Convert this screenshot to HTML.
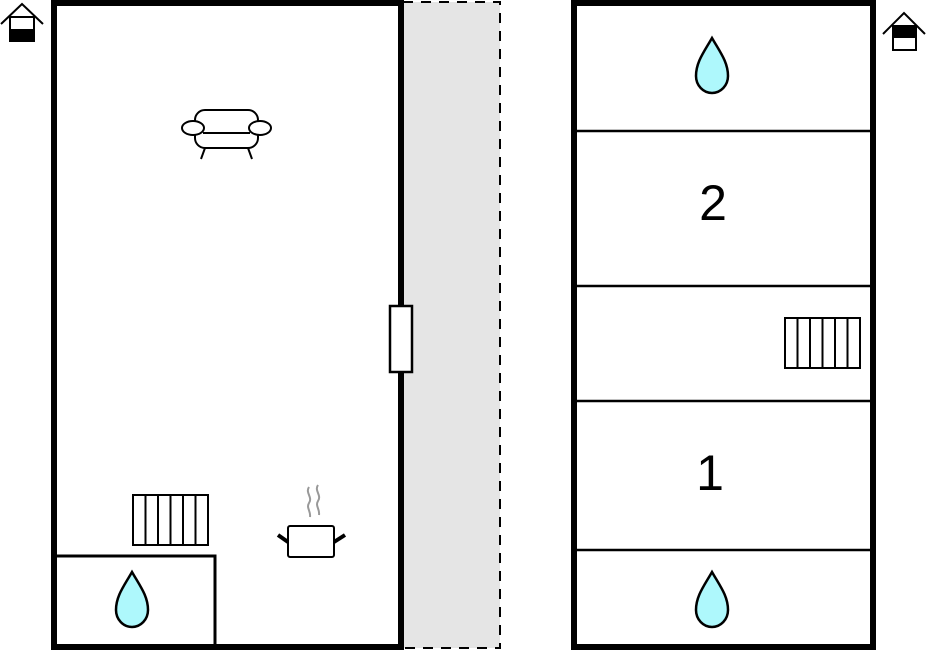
<!DOCTYPE html>
<html><head><style>html,body{margin:0;padding:0;background:#fff;}svg{display:block}</style></head>
<body>
<svg width="926" height="652" viewBox="0 0 926 652" xmlns="http://www.w3.org/2000/svg">
<defs>
<path id="drop" d="M0,0 C-8,14 -16,24 -16,38 A16 17 0 0 0 16,38 C16,24 8,14 0,0 Z" fill="#aef8fc" stroke="#000" stroke-width="2.5"/>
</defs>
<rect x="403" y="2" width="97" height="646" fill="#e5e5e5" stroke="#000" stroke-width="2" stroke-dasharray="10,8"/>
<rect x="54" y="3" width="347" height="644" fill="#fff" stroke="#000" stroke-width="6"/>
<polyline points="54,556 215,556 215,648" fill="none" stroke="#000" stroke-width="3"/>
<rect x="390" y="306" width="22" height="66" fill="#fff" stroke="#000" stroke-width="2.5"/>
<g stroke="#000" stroke-width="2" fill="#fff">
<rect x="133" y="495" width="75" height="50"/>
<line x1="145.5" y1="495" x2="145.5" y2="545"/><line x1="158" y1="495" x2="158" y2="545"/>
<line x1="170.5" y1="495" x2="170.5" y2="545"/><line x1="183" y1="495" x2="183" y2="545"/>
<line x1="195.5" y1="495" x2="195.5" y2="545"/>
</g>
<use href="#drop" x="132" y="572"/>
<g stroke="#000" stroke-width="2" fill="#fff">
<line x1="205" y1="148" x2="201" y2="159"/><line x1="248" y1="148" x2="252" y2="159"/>
<rect x="195" y="110" width="63" height="38" rx="10"/>
<line x1="203" y1="133" x2="250" y2="133"/>
<ellipse cx="193" cy="128" rx="11" ry="7"/>
<ellipse cx="260" cy="128" rx="11" ry="7"/>
</g>
<g>
<path d="M309,487 c-4,6 4,10 0,16 c-3,5 2,8 1,14 M318,485 c-4,6 4,10 0,16 c-3,5 2,8 1,14" fill="none" stroke="#999" stroke-width="2"/>
<rect x="288" y="526" width="46" height="31" rx="2" fill="#fff" stroke="#000" stroke-width="2"/>
<line x1="278" y1="535" x2="288" y2="542" stroke="#000" stroke-width="4"/>
<line x1="334" y1="542" x2="345" y2="535" stroke="#000" stroke-width="4"/>
</g>
<g stroke="#000" stroke-width="2" fill="none">
<polyline points="1,24 22,4 43,24"/>
<rect x="10" y="17" width="24" height="24" fill="#fff"/>
<rect x="10" y="30" width="24" height="11" fill="#000"/>
<polyline points="883,34 904,13 925,34"/>
<rect x="893" y="26" width="23" height="24" fill="#fff"/>
<rect x="893" y="26" width="23" height="11" fill="#000"/>
</g>
<rect x="574" y="3" width="299" height="644" fill="#fff" stroke="#000" stroke-width="6"/>
<g stroke="#000" stroke-width="2.5">
<line x1="575" y1="131" x2="872" y2="131"/>
<line x1="575" y1="286" x2="872" y2="286"/>
<line x1="575" y1="401" x2="872" y2="401"/>
<line x1="575" y1="550" x2="872" y2="550"/>
</g>
<use href="#drop" x="712" y="38"/>
<use href="#drop" x="712" y="572"/>
<g stroke="#000" stroke-width="2" fill="#fff">
<rect x="785" y="318" width="75" height="50"/>
<line x1="797.5" y1="318" x2="797.5" y2="368"/><line x1="810" y1="318" x2="810" y2="368"/>
<line x1="822.5" y1="318" x2="822.5" y2="368"/><line x1="835" y1="318" x2="835" y2="368"/>
<line x1="847.5" y1="318" x2="847.5" y2="368"/>
</g>
<text x="713" y="220" font-family="Liberation Sans, sans-serif" font-size="50" text-anchor="middle">2</text>
<text x="710" y="490" font-family="Liberation Sans, sans-serif" font-size="50" text-anchor="middle">1</text>
</svg>
</body></html>
